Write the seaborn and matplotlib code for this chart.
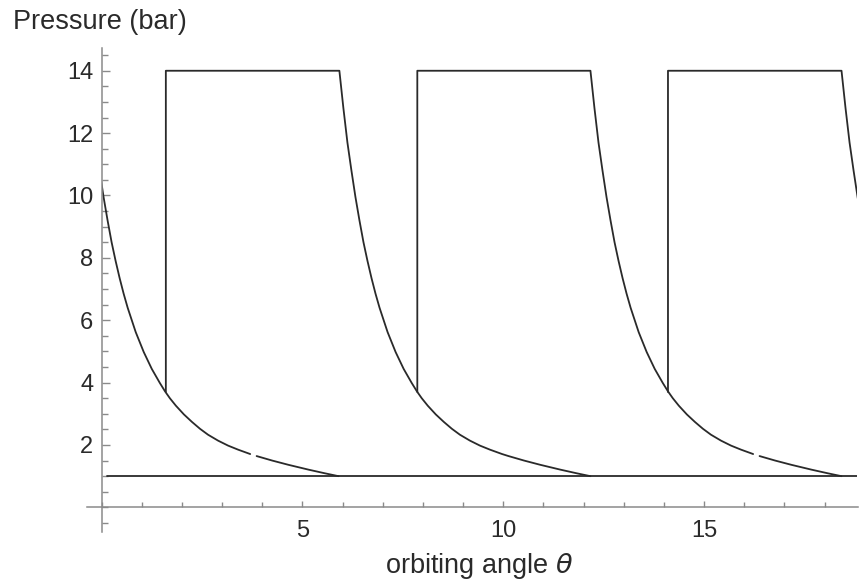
import matplotlib
matplotlib.use("Agg")
import matplotlib.pyplot as plt
from matplotlib.patches import Rectangle
from matplotlib.ticker import FixedLocator, MultipleLocator
import pandas as pd
import seaborn as sns

# --- data ---
# expansion curve: angle after the end of the 14 bar plateau vs. pressure
decay_dtheta = [0.00, 0.10, 0.20, 0.30, 0.40, 0.50, 0.60, 0.70, 0.80, 0.90, 1.00,
                1.20, 1.40, 1.60, 1.80, 1.93, 2.05, 2.20, 2.40, 2.60, 2.80,
                3.00, 3.25, 3.50, 3.75, 4.05, 4.21, 4.60, 5.00, 5.50, 5.90, 6.25]
decay_p = [14.0, 12.8, 11.7, 10.8, 9.95, 9.2, 8.5, 7.9, 7.35, 6.85, 6.4,
           5.62, 4.98, 4.44, 3.99, 3.72, 3.50, 3.26, 2.98, 2.74, 2.52,
           2.33, 2.14, 1.98, 1.85, 1.71, 1.645, 1.50, 1.365, 1.21, 1.095, 1.00]
gap_index = 26  # the plotted curve has a small break between 4.05 and 4.21

decay_start = [-0.35, 5.92, 12.17, 18.42]
decay_has_gap = [True, False, True, False]
jump_theta = [1.60, 7.86, 14.10]
jump_low = 3.70
top_p = 14.0
suction_theta = [0.14, 18.80]
suction_p = [1.0, 1.0]
theta_end = 18.80

y_major = [2, 4, 6, 8, 10, 12, 14]
x_major = [5, 10, 15]

# --- build segments ---
rows = []
seg_id = 0


def add_segment(xs, ys):
    global seg_id
    for x, y in zip(xs, ys):
        rows.append((x, y, seg_id))
    seg_id += 1


for k, start in enumerate(decay_start):
    xs = [start + d for d in decay_dtheta]
    ys = list(decay_p)
    if k > 0:
        xs = [jump_theta[k - 1], jump_theta[k - 1]] + xs
        ys = [jump_low, top_p] + ys
    if decay_has_gap[k]:
        cut = len(xs) - (len(decay_dtheta) - gap_index)
        add_segment(xs[:cut], ys[:cut])
        add_segment(xs[cut:], ys[cut:])
    else:
        add_segment(xs, ys)
add_segment(suction_theta, suction_p)

df = pd.DataFrame(rows, columns=["theta", "p", "seg"])

# --- plot ---
sns.set_style("white")
plt.rcParams["font.family"] = ["Liberation Sans", "DejaVu Sans"]

fig = plt.figure(figsize=(8.61, 5.83), dpi=100)
ax = fig.add_axes([0.1007, 0.088, 0.8958, 0.8297])

sns.lineplot(data=df, x="theta", y="p", units="seg", estimator=None, sort=False,
             color="#2a2a2a", lw=1.3, ax=ax, legend=False)

clip = Rectangle((0, -5), theta_end, 30, transform=ax.transData)
for line in ax.lines:
    line.set_clip_path(clip)

ax.set_xlim(-0.37, 18.83)
ax.set_ylim(-0.78, 14.73)

axis_grey = "#8a8a8a"
for side in ["top", "right"]:
    ax.spines[side].set_visible(False)
ax.spines["left"].set_position(("data", 0))
ax.spines["bottom"].set_position(("data", 0))
for side in ["left", "bottom"]:
    ax.spines[side].set_color(axis_grey)
    ax.spines[side].set_linewidth(1.1)

ax.xaxis.set_major_locator(FixedLocator(x_major))
ax.xaxis.set_minor_locator(MultipleLocator(1))
ax.yaxis.set_major_locator(FixedLocator(y_major))
ax.yaxis.set_minor_locator(MultipleLocator(0.5))

ax.tick_params(axis="both", which="both", direction="in", color=axis_grey,
               labelcolor="#2a2a2a", labelsize=17, width=1.0,
               left=True, bottom=True)
ax.tick_params(axis="y", which="major", length=6, pad=6)
ax.tick_params(axis="y", which="minor", length=4)
ax.tick_params(axis="x", which="major", length=4.5, pad=9)
ax.tick_params(axis="x", which="minor", length=3.5)

ax.set_xlabel("")
ax.set_ylabel("")
fig.text(13 / 861, 1 - 22 / 583, "Pressure (bar)", ha="left", va="center",
         fontsize=19.5, color="#2a2a2a")
fig.text(479 / 861, 1 - 566 / 583, r"orbiting angle $\theta$", ha="center",
         va="center", fontsize=19.5, color="#2a2a2a")

fig.savefig("out.png", dpi=100)
